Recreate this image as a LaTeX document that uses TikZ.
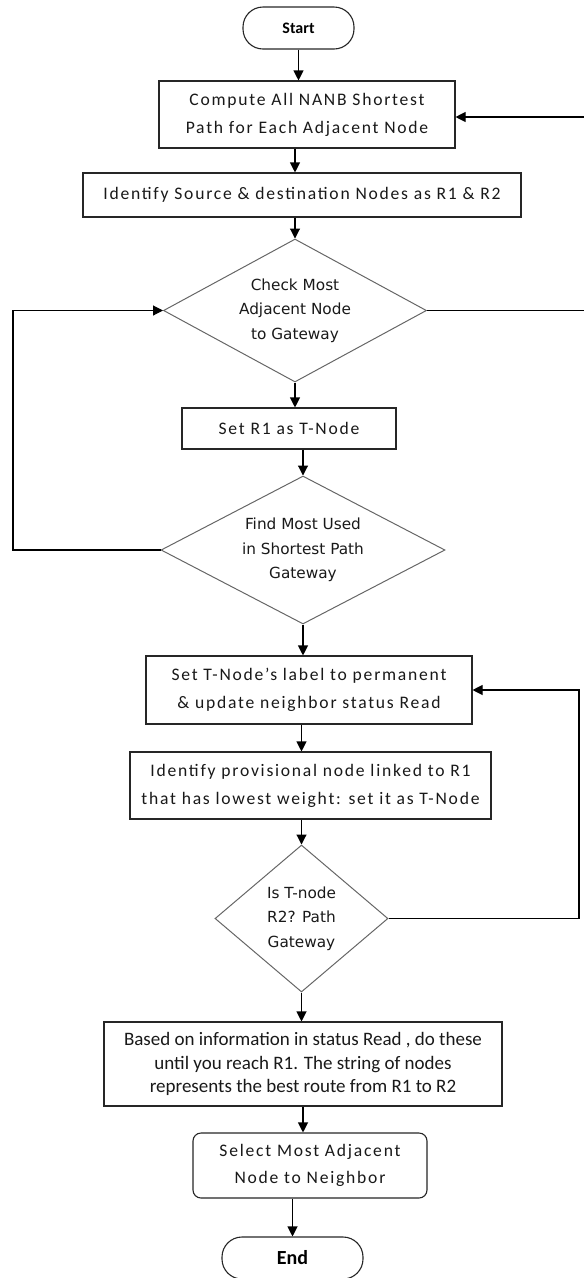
\documentclass[tikz,border=0pt]{standalone}
\usepackage{fontspec}
\setmainfont{Carlito}
\newfontfamily\boxfont[LetterSpace=10]{Carlito}
\newfontfamily\diafont{DejaVu Sans}
\usetikzlibrary{arrows.meta,shapes.geometric}
\begin{document}
\begin{tikzpicture}[x=1pt,y=-1pt,
  box/.style={draw=black!85, line width=1.1pt, fill=white, inner sep=0pt, align=center,
    font=\boxfont\fontsize{17.6}{28}\selectfont, text=black!90},
  dia/.style={draw=black!60, line width=1pt, shape=diamond, inner sep=0pt},
  dtext/.style={align=center, font=\diafont\fontsize{15.3}{24.5}\selectfont, text=black!90, inner sep=0pt},
  term/.style={draw=black!85, line width=1.1pt, rounded corners=20pt, inner sep=0pt, text=black},
  arr/.style={line width=1.1pt, -{Triangle[width=10pt,length=10pt]}},
  lin/.style={line width=1.1pt}
]
\useasboundingbox (0,0) rectangle (584,1278);
\node[term, minimum width=111pt, minimum height=42pt, font=\bfseries\fontsize{16}{18}\selectfont] (start) at (298.5,28) {Start};
\node[box, minimum width=296pt, minimum height=67pt] (b1) at (307,114.5) {Compute All NANB Shortest\\Path for Each Adjacent Node};
\node[box, minimum width=438pt, minimum height=44pt] (b2) at (302,195) {Identify Source \& destination Nodes as R1 \& R2};
\node[dia, minimum width=263pt, minimum height=143pt] (d1) at (295,310.5) {};
\node[dtext] (d1t) at (d1.center) {Check Most\\Adjacent Node\\to Gateway};
\node[box, minimum width=214pt, minimum height=41pt] (b3) at (289,428.5) {Set R1 as T-Node};
\node[dia, minimum width=284pt, minimum height=148pt] (d2) at (303,550) {};
\node[dtext] (d2t) at (d2.center) {Find Most Used\\in Shortest Path\\Gateway};
\node[box, minimum width=326pt, minimum height=68pt] (b4) at (309,690) {Set T-Node’s label to permanent\\\& update neighbor status Read};
\node[box, minimum width=361pt, minimum height=67pt] (b5) at (310.5,785.5) {Identify provisional node linked to R1\\that has lowest weight: set it as T-Node};
\node[dia, minimum width=173pt, minimum height=147pt] (d3) at (301.5,918.5) {};
\node[dtext] (d3t) at (d3.center) {Is T-node\\R2? Path\\Gateway};
\node[box, minimum width=398pt, minimum height=84pt, font=\fontsize{19}{23.7}\selectfont] (b6) at (303,1064) {Based on information in status Read , do these\\until you reach R1. The string of nodes\\represents the best route from R1 to R2};
\node[box, rounded corners=8pt, minimum width=234pt, minimum height=65pt, font=\boxfont\fontsize{17.6}{27}\selectfont] (b7) at (310,1165.5) {Select Most Adjacent\\Node to Neighbor};
\node[term, minimum width=141pt, minimum height=42pt, font=\bfseries\fontsize{20}{24}\selectfont] (end) at (292.5,1258) {End};

\draw[arr] (start.south) -- (start.south |- b1.north);
\draw[arr] (b1.south -| d1.north) -- (b2.north -| d1.north);
\draw[arr] (b2.south -| d1.north) -- (d1.north);
\draw[arr] (d1.south) -- (d1.south |- b3.north);
\draw[arr] (b3.south -| d2.north) -- (d2.north);
\draw[arr] (d2.south) -- (d2.south |- b4.north);
\draw[arr] (b4.south -| d3.north) -- (b5.north -| d3.north);
\draw[arr] (b5.south -| d3.north) -- (d3.north);
\draw[arr] (d3.south) -- (d3.south |- b6.north);
\draw[arr] (b6.south) -- (b6.south |- b7.north);
\draw[arr] (b7.south -| end.north) -- (end.north);

\coordinate (rtop) at (600,117);
\draw[arr] (d1.east) -| (rtop) -- (rtop -| b1.east);
\coordinate (lft) at (13,550);
\draw[arr] (d2.west) -- (lft) |- (d1.west);
\coordinate (rt2) at (579,918.5);
\draw[arr] (d3.east) -- (rt2) |- (b4.east);
\end{tikzpicture}
\end{document}
